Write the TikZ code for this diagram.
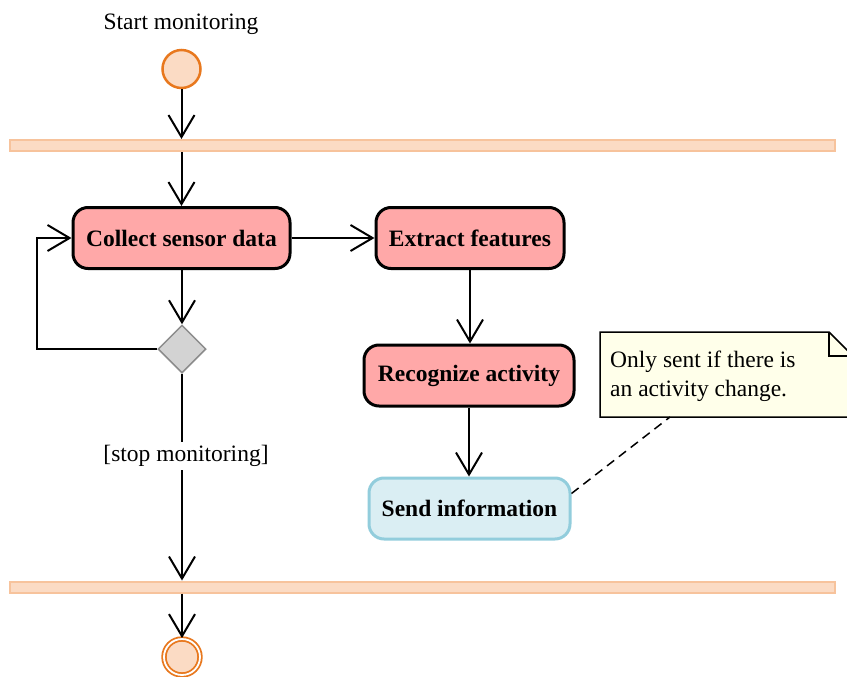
\documentclass[tikz,border=0pt]{standalone}
\usepackage{fontspec}
\setmainfont{Liberation Serif}
\usetikzlibrary{arrows.meta,shapes.geometric}
\definecolor{peach}{HTML}{FBDBC4}
\definecolor{orangeline}{HTML}{E8781E}
\definecolor{barline}{HTML}{F7C39C}
\definecolor{actfill}{HTML}{FFA8A8}
\definecolor{sendfill}{HTML}{DAEEF3}
\definecolor{sendline}{HTML}{92CDDC}
\definecolor{notefill}{HTML}{FFFFEA}
\definecolor{decfill}{HTML}{D3D3D3}
\definecolor{decline}{HTML}{8C8C8C}
\tikzset{
  txt/.style={font=\fontsize{23.5}{29}\selectfont},
  action/.style={txt, font=\fontsize{23.5}{29}\selectfont\bfseries, rectangle, rounded corners=15pt,
    draw=black, line width=3pt, fill=actfill, minimum height=61pt, inner sep=0pt},
  sendbox/.style={action, draw=sendline, fill=sendfill},
  syncbar/.style={rectangle, draw=barline, line width=2pt, fill=peach,
    minimum width=825pt, minimum height=11pt, inner sep=0pt},
  decision/.style={diamond, aspect=1, draw=decline, fill=decfill, line width=1.5pt,
    minimum width=48pt, minimum height=48pt, inner sep=0pt},
  flow/.style={draw=black, line width=2pt,
    -{Straight Barb[length=22pt, width=26pt, line width=2pt]}},
  notelink/.style={draw=black, line width=1.5pt, dash pattern=on 9pt off 6pt},
}
\begin{document}
\begin{tikzpicture}[x=1pt, y=-1pt]
\clip (0,0) rectangle (847,677);
\fill[white] (0,0) rectangle (847,677);

\node[txt, anchor=center] (starttxt) at (181,24) {Start monitoring};
\node[circle, draw=orangeline, line width=2.5pt, fill=peach, minimum size=38pt, inner sep=0pt] (start) at (181.5,69) {};

\node[syncbar] (bar1) at (422.5,145.5) {};
\node[syncbar] (bar2) at (422.5,587) {};

\node[action, minimum width=217pt] (collect) at (181.5,238) {Collect sensor data};
\node[action, minimum width=188pt] (extract) at (470,238) {Extract features};
\node[action, minimum width=210pt] (recog) at (469,375.5) {Recognize activity};
\node[sendbox, minimum width=201pt] (send) at (469.5,508.5) {Send information};

\node[decision] (dec) at (182,349) {};

\node[circle, draw=orangeline, line width=1.8pt, double=white, double distance=1.8pt,
  fill=peach, minimum size=36pt, inner sep=0pt] (final) at (182,657) {};

% note
\draw[line width=1.5pt, fill=notefill] (600,332) -- (829,332) -- (853,356) -- (853,417) -- (600,417) -- cycle;
\draw[line width=2pt] (829,332) -- (829,356) -- (853,356);
\node[txt, anchor=north west, align=left, inner sep=0pt] (notetxt) at (610,351)
  {Only sent if there is\\an activity change.};
\coordinate (notepin) at (670,417);

% flows
\draw[flow] (start.south) -- (start.south |- bar1.north);
\draw[flow] (collect.north |- bar1.south) -- (collect.north);
\draw[flow] (collect.east) -- (extract.west);
\draw[flow] (extract.south) -- (recog.north -| extract.south);
\draw[flow] (recog.south) -- (send.north -| recog.south);
\draw[flow] (collect.south -| dec.north) -- (dec.north);
\coordinate (loopa) at (37,349);
\coordinate (loopb) at (37,238);
\draw[flow] (dec.west) -- (loopa) -- (loopb) -- (collect.west);
\draw[flow] (dec.south) -- (dec.south |- bar2.north);
\node[txt, fill=white, inner sep=3pt] (stoplbl) at (186,456) {[stop monitoring]};
\draw[flow] (final.north |- bar2.south) -- (final.north);

\draw[notelink] ([yshift=15pt]send.east) -- (notepin);
\end{tikzpicture}
\end{document}
